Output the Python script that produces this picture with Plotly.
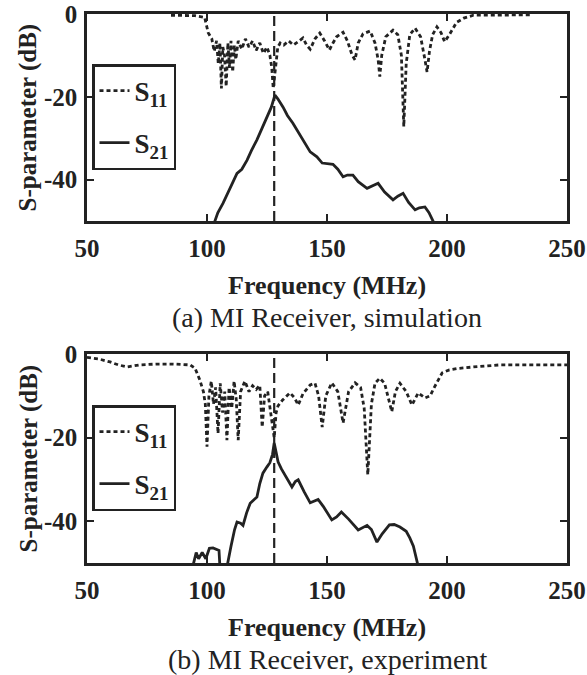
import plotly.graph_objects as go
from plotly.subplots import make_subplots

# (a) simulation
s11_sim_f = [85, 90, 95, 99, 100.5, 102, 103, 104, 104.7, 105.4, 106, 106.6, 107.3, 108, 108.7, 109.4,
             110, 110.7, 111.4, 112, 113, 114.5, 116, 117.5, 119, 120.5, 122, 123.5, 125, 126.2,
             127, 127.6, 128.2, 128.8, 129.5, 130.5, 132, 134, 136, 138, 140, 141.5, 143, 145, 147,
             149, 151, 152.5, 154, 156.7, 158.5, 160.5, 161.7, 163, 165, 168, 170, 171.3, 172, 172.8,
             174.5, 177.5, 179.5, 181, 182, 183, 184.5, 186.7, 189, 190.8, 191.7, 192.7, 194, 195.8,
             197.5, 199, 201, 204, 207, 211, 220, 235]
s11_sim_db = [-0.3, -0.3, -0.4, -0.8, -4.5, -6, -9, -6.5, -12, -7, -18, -8, -10, -17.5, -7, -13,
              -6.5, -14, -7.5, -11, -6.5, -8.5, -6, -8, -6.5, -8.8, -7, -9.5, -8, -10,
              -13, -18, -15, -11, -8, -7, -7.5, -6.5, -7.5, -6.7, -5.8, -7.5, -8.5, -6, -4.6,
              -6.5, -8.7, -7, -5.5, -4.4, -6.5, -10, -11.1, -7, -4.8, -4.1, -7, -11, -15.1, -10,
              -5.5, -3.9, -5, -10, -27.2, -12, -5, -3.4, -5.5, -11, -14, -9, -5, -3.1,
              -4.5, -6.7, -5, -2, -1, -0.3, -0.2, -0.2]

s21_sim_f = [103, 104.5, 106.7, 108.5, 110.8, 112.5, 114.5, 116.7, 118.5, 120.8, 123, 125, 126.8,
             128.3, 129.5, 131.7, 133.5, 135.8, 138, 140, 143, 145.8, 148, 152.5, 154.5, 156.7,
             158.5, 160.8, 163, 166.7, 169, 171.3, 174, 177.5, 179.5, 181.7, 184, 186.7, 188.5,
             190.8, 192.5, 194.2, 195]
s21_sim_db = [-50.5, -48, -45.7, -43.5, -40.9, -38.5, -37.5, -35.3, -33, -30.4, -27.5, -24.9, -22.5,
              -19.6, -20.5, -22.5, -24.5, -26.4, -28.5, -30.4, -33.3, -34.5, -36, -36.3, -37.5, -39.3,
              -38.9, -38.9, -40.5, -42.1, -41.5, -40.9, -43, -44.9, -44, -43.3, -45.5, -47.3, -46.8,
              -46.6, -48, -50, -51]

# (b) experiment
s11_exp_f = [50, 55, 59.6, 63, 66.7, 72, 79, 86, 93, 95, 97, 98.5, 99.3, 100, 100.8, 101.8, 102.7,
             103.6, 104.6, 105.5, 106.5, 107.4, 108.3, 109.2, 110.3, 111.3, 112.2, 113, 114, 115.8,
             117.5, 119, 120.5, 122, 123, 124, 125.3, 126.2, 127.2, 128, 128.8, 129.6, 131.5, 134.6,
             136.5, 138, 140, 143, 145, 146.5, 148, 149.5, 152, 154.5, 156.7, 159, 161.7, 164, 165.5,
             167, 168.5, 170, 172, 174, 177, 178.5, 180.4, 183, 185.4, 188, 190.8, 193, 194.5, 196.5,
             198, 201, 204, 211, 222, 235, 250]
s11_exp_db = [-0.8, -1.2, -1.9, -2.6, -3.1, -2.6, -2.4, -2.4, -2.6, -3.4, -6.2, -9, -12, -22.2, -10,
              -6.5, -12, -8, -19, -7, -14, -9, -20.6, -8, -13, -6.5, -11, -20.6, -9, -6.5,
              -9, -7.6, -8.5, -7.5, -17.5, -10, -9, -12.7, -16, -20, -14, -12.4, -11, -9.3,
              -10.5, -12.2, -9.5, -7.4, -7.0, -10, -17.5, -10, -6.9, -9, -16.5, -9, -6.9, -8, -13,
              -28.9, -12, -7, -5.8, -7, -13.8, -9, -7, -9, -12.2, -9.3, -10.5, -10, -8.2, -6,
              -4.5, -3.8, -3.5, -3.1, -2.6, -2.6, -2.6]

s21_exp_f = [94, 95.5, 96.5, 98, 99.5, 101, 102.5, 104, 105, 105.4, 108.3, 110, 111.5, 112.5, 114,
             115, 116.5, 118, 120.8, 122, 123.3, 125, 126.2, 127.3, 128, 128.8, 129.6, 131, 133,
             135.4, 136.8, 138, 140.5, 143, 146.3, 148.5, 152, 154, 156, 159, 163, 166.7, 168.5,
             170.8, 173, 176, 178, 180.4, 183, 184.5, 186, 187.5, 188.5]
s21_exp_db = [-51, -47.5, -49, -47.5, -49, -46.5, -46.4, -46.8, -47, -51, -51, -46, -42, -40.2, -40.5,
              -41, -38, -35.7, -34.2, -31, -28.5, -27, -26, -24, -21.3, -23.5, -25.8, -27.5, -29.4,
              -31.8, -30.5, -30.1, -33, -35.6, -34.8, -36.5, -39.7, -39, -37.8, -39.5, -42.1, -41, -42,
              -45, -43, -40.9, -40.8, -41.4, -42.4, -44, -46, -50, -52]

marker_freq = 128
y_ticks = [0, -20, -40]
y_ticktext = ['0', '-20', '-40']
x_ticks = [50, 100, 150, 200, 250]
captions = ['(a) MI Receiver, simulation', '(b) MI Receiver, experiment']

for a, b in [(s11_sim_f, s11_sim_db), (s21_sim_f, s21_sim_db),
             (s11_exp_f, s11_exp_db), (s21_exp_f, s21_exp_db)]:
    assert len(a) == len(b), (len(a), len(b))

W, H = 587, 675
SERIF = 'Liberation Serif'
INK = '#222'

fig = make_subplots(rows=2, cols=1)

panels = [(s11_sim_f, s11_sim_db, s21_sim_f, s21_sim_db, 'legend'),
          (s11_exp_f, s11_exp_db, s21_exp_f, s21_exp_db, 'legend2')]

for i, (f11, d11, f21, d21, leg) in enumerate(panels, start=1):
    fig.add_trace(go.Scatter(x=f11, y=d11, mode='lines', name='<b>S<sub>11</sub></b>',
                             line=dict(color=INK, width=2.8, dash='4px,3px'),
                             legend=leg, legendgroup='a%d' % i), row=i, col=1)
    fig.add_trace(go.Scatter(x=f21, y=d21, mode='lines', name='<b>S<sub>21</sub></b>',
                             line=dict(color=INK, width=2.8),
                             legend=leg, legendgroup='b%d' % i), row=i, col=1)
    fig.add_trace(go.Scatter(x=[marker_freq, marker_freq], y=[-50, 0], mode='lines',
                             line=dict(color=INK, width=2.2, dash='10px,5px'),
                             showlegend=False, hoverinfo='skip'), row=i, col=1)

axis_common = dict(showline=True, linecolor=INK, linewidth=2.5, mirror='ticks',
                   ticks='inside', ticklen=7, tickwidth=2, tickcolor=INK,
                   showgrid=False, zeroline=False, automargin=False,
                   tickfont=dict(family=SERIF, size=25, color=INK, weight='bold'))

domains = [(1 - 221 / H, 1 - 14 / H), (1 - 563 / H, 1 - 354 / H)]
x0, x1 = 87 / W, 567 / W
for i, dom in enumerate(domains, start=1):
    fig.update_xaxes(range=[50, 250], tickvals=x_ticks, domain=[x0, x1],
                     ticklabelstandoff=3, row=i, col=1, **axis_common)
    fig.update_yaxes(range=[-50, 0], tickvals=y_ticks, ticktext=y_ticktext, domain=list(dom),
                     ticklabelstandoff=2, row=i, col=1, **axis_common)

bold = lambda t: '<b>%s</b>' % t
ann = []
centered = dict(xref='paper', yref='paper', showarrow=False, xanchor='center', yanchor='middle')
for dom, cap in zip(domains, captions):
    ybot = dom[0] * H
    ymid = (dom[0] + dom[1]) / 2
    ann.append(dict(text=bold('Frequency (MHz)'), x=(x0 + x1) / 2, y=(ybot - 64) / H,
                    font=dict(family=SERIF, size=26, color=INK), **centered))
    ann.append(dict(text=cap, x=(x0 + x1) / 2, y=(ybot - 96) / H,
                    font=dict(family=SERIF, size=28, color=INK), **centered))
    ann.append(dict(text=bold('S-parameter (dB)'), x=28 / W, y=ymid, textangle=-90,
                    font=dict(family=SERIF, size=25, color=INK), **centered))

legend_common = dict(bgcolor='white', bordercolor=INK, borderwidth=2.5,
                     font=dict(family=SERIF, size=27, color=INK),
                     xanchor='left', yanchor='top', tracegroupgap=14, itemwidth=30)

fig.update_layout(
    width=W, height=H,
    margin=dict(l=0, r=0, t=0, b=0),
    plot_bgcolor='white', paper_bgcolor='white',
    annotations=ann,
    legend=dict(x=92 / W, y=1 - 64 / H, **legend_common),
    legend2=dict(x=92 / W, y=1 - 405 / H, **legend_common),
)

fig.write_html("out.html", config={'displayModeBar': False},
               post_script="document.body.style.margin='0';")
